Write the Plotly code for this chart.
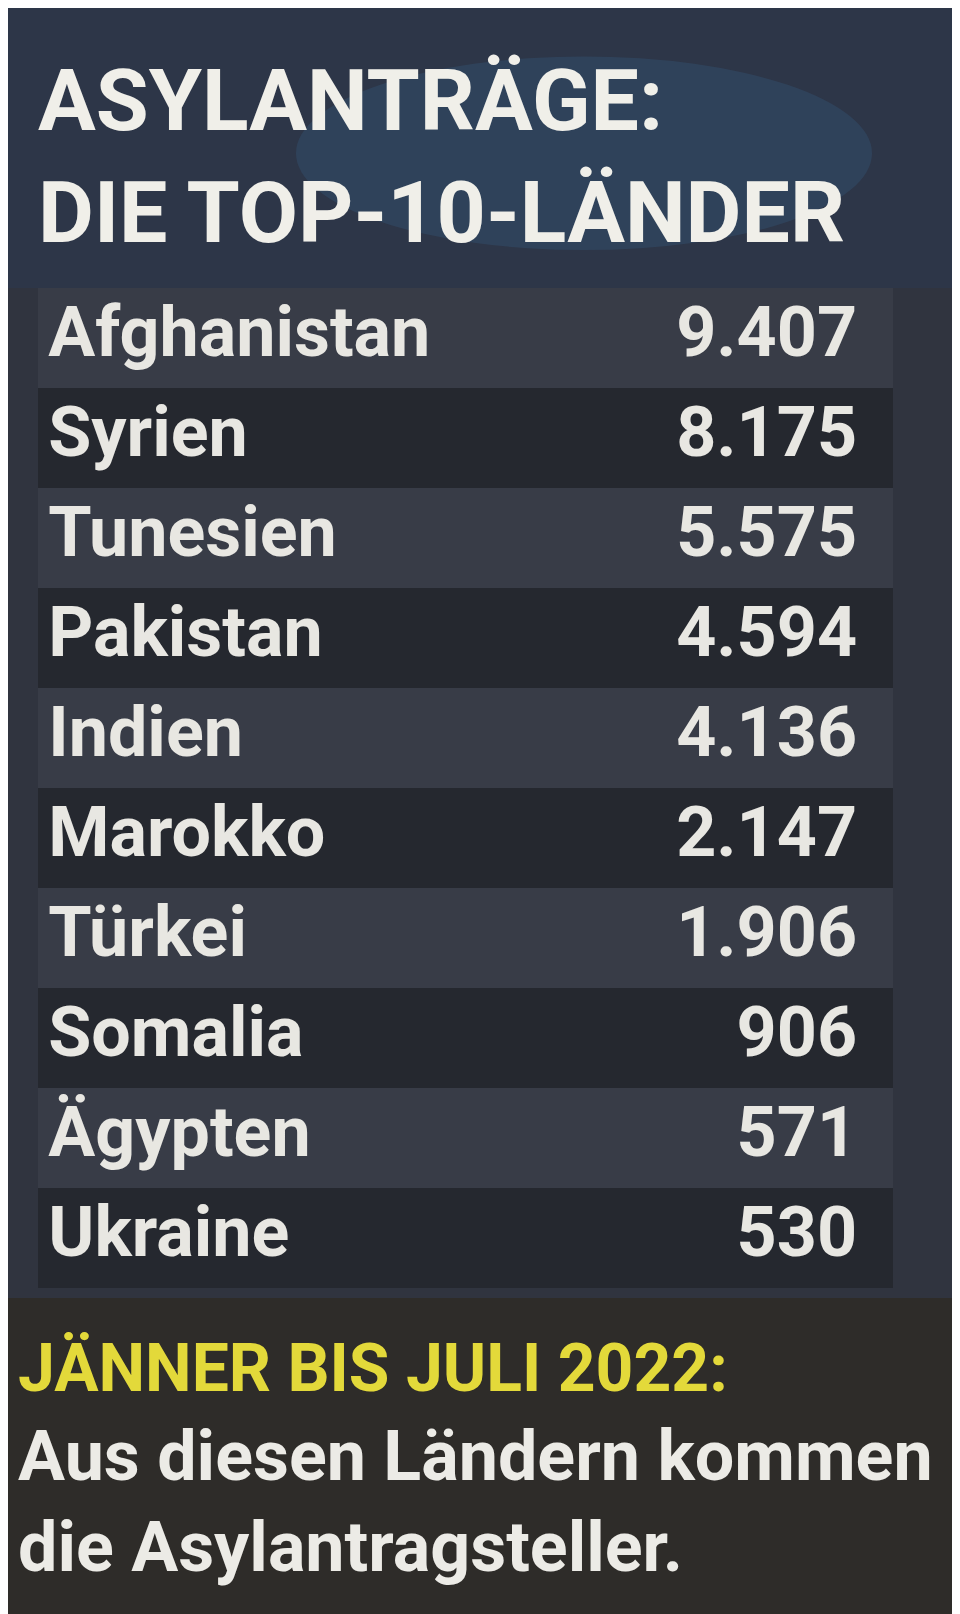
import plotly.graph_objects as go

# =============================================================================
# DATEN
# =============================================================================

laender = ["Afghanistan", "Syrien", "Tunesien", "Pakistan", "Indien",
           "Marokko", "Türkei", "Somalia", "Ägypten", "Ukraine"]
antraege = [9407, 8175, 5575, 4594, 4136, 2147, 1906, 906, 571, 530]

titel = "ASYLANTRÄGE:<br>DIE TOP-10-LÄNDER"
zeitraum = "JÄNNER BIS JULI 2022:"
beschreibung = "Aus diesen Ländern kommen<br>die Asylantragsteller."

W, H = 960, 1614
FONT = "Roboto, sans-serif"


def fmt(v):
    return f"{v:,}".replace(",", ".")


zeilen = list(range(len(laender)))
streifen = ["#25282f" if i % 2 else "#383c47" for i in zeilen]

# =============================================================================
# FIGUR
# =============================================================================

fig = go.Figure()

# Streifen
fig.add_trace(go.Bar(
    x=[1] * len(zeilen), y=zeilen, orientation="h", width=1,
    marker=dict(color=streifen, line=dict(width=0)),
    hoverinfo="skip", showlegend=False,
))

# Ländernamen
fig.add_trace(go.Scatter(
    x=[0.012] * len(zeilen), y=zeilen, mode="text",
    text=[f"<b>{l}</b>" for l in laender],
    textposition="middle right",
    textfont=dict(family=FONT, size=70, color="#e8e7e2"),
    showlegend=False, hoverinfo="skip",
))

# Werte
fig.add_trace(go.Scatter(
    x=[0.958] * len(zeilen), y=zeilen, mode="text",
    text=[f"<b>{fmt(v)}</b>" for v in antraege], textposition="middle left",
    textfont=dict(family=FONT, size=70, color="#e8e7e2"),
    showlegend=False, hoverinfo="skip",
))

# =============================================================================
# LAYOUT
# =============================================================================

fig.update_layout(
    width=W, height=H,
    margin=dict(l=0, r=0, t=0, b=0),
    paper_bgcolor="#30343f",
    plot_bgcolor="rgba(0,0,0,0)",
    bargap=0,
    xaxis=dict(range=[0, 1], domain=[30 / W, 885 / W], visible=False,
               fixedrange=True),
    yaxis=dict(range=[9.5, -0.5], domain=[1 - 1280 / H, 1 - 280 / H],
               visible=False, fixedrange=True),
)

# Hintergrund-Leuchten oben und dunkler Fußbereich
fig.add_shape(type="rect", xref="paper", yref="paper", x0=0, x1=1,
              y0=1 - 280 / H, y1=1, fillcolor="#2d3648", line_width=0,
              layer="below")
fig.add_shape(type="circle", xref="paper", yref="paper",
              x0=0.3, x1=0.9, y0=0.85, y1=0.97,
              fillcolor="rgba(60,120,170,0.18)", line_width=0, layer="below")
fig.add_shape(type="rect", xref="paper", yref="paper", x0=0, x1=1,
              y0=0, y1=1 - 1290 / H, fillcolor="#2e2c29", line_width=0,
              layer="below")

fig.add_annotation(
    text=f"<b>{titel}</b>", xref="paper", yref="paper",
    x=28 / W, y=1 - 40 / H, xanchor="left", yanchor="top", align="left",
    showarrow=False,
    font=dict(family=FONT, size=86, color="#f0efe9"),
)
fig.add_annotation(
    text=f"<b>{zeitraum}</b>", xref="paper", yref="paper",
    x=8 / W, y=1 - 1320 / H, xanchor="left", yanchor="top",
    showarrow=False,
    font=dict(family=FONT, size=66, color="#e3d93a"),
)
fig.add_annotation(
    text=f"<b>{beschreibung}</b>", xref="paper", yref="paper",
    x=8 / W, y=1 - 1405 / H, xanchor="left", yanchor="top", align="left",
    showarrow=False,
    font=dict(family=FONT, size=70, color="#ecebe6"),
)

fig.write_html("out.html")
